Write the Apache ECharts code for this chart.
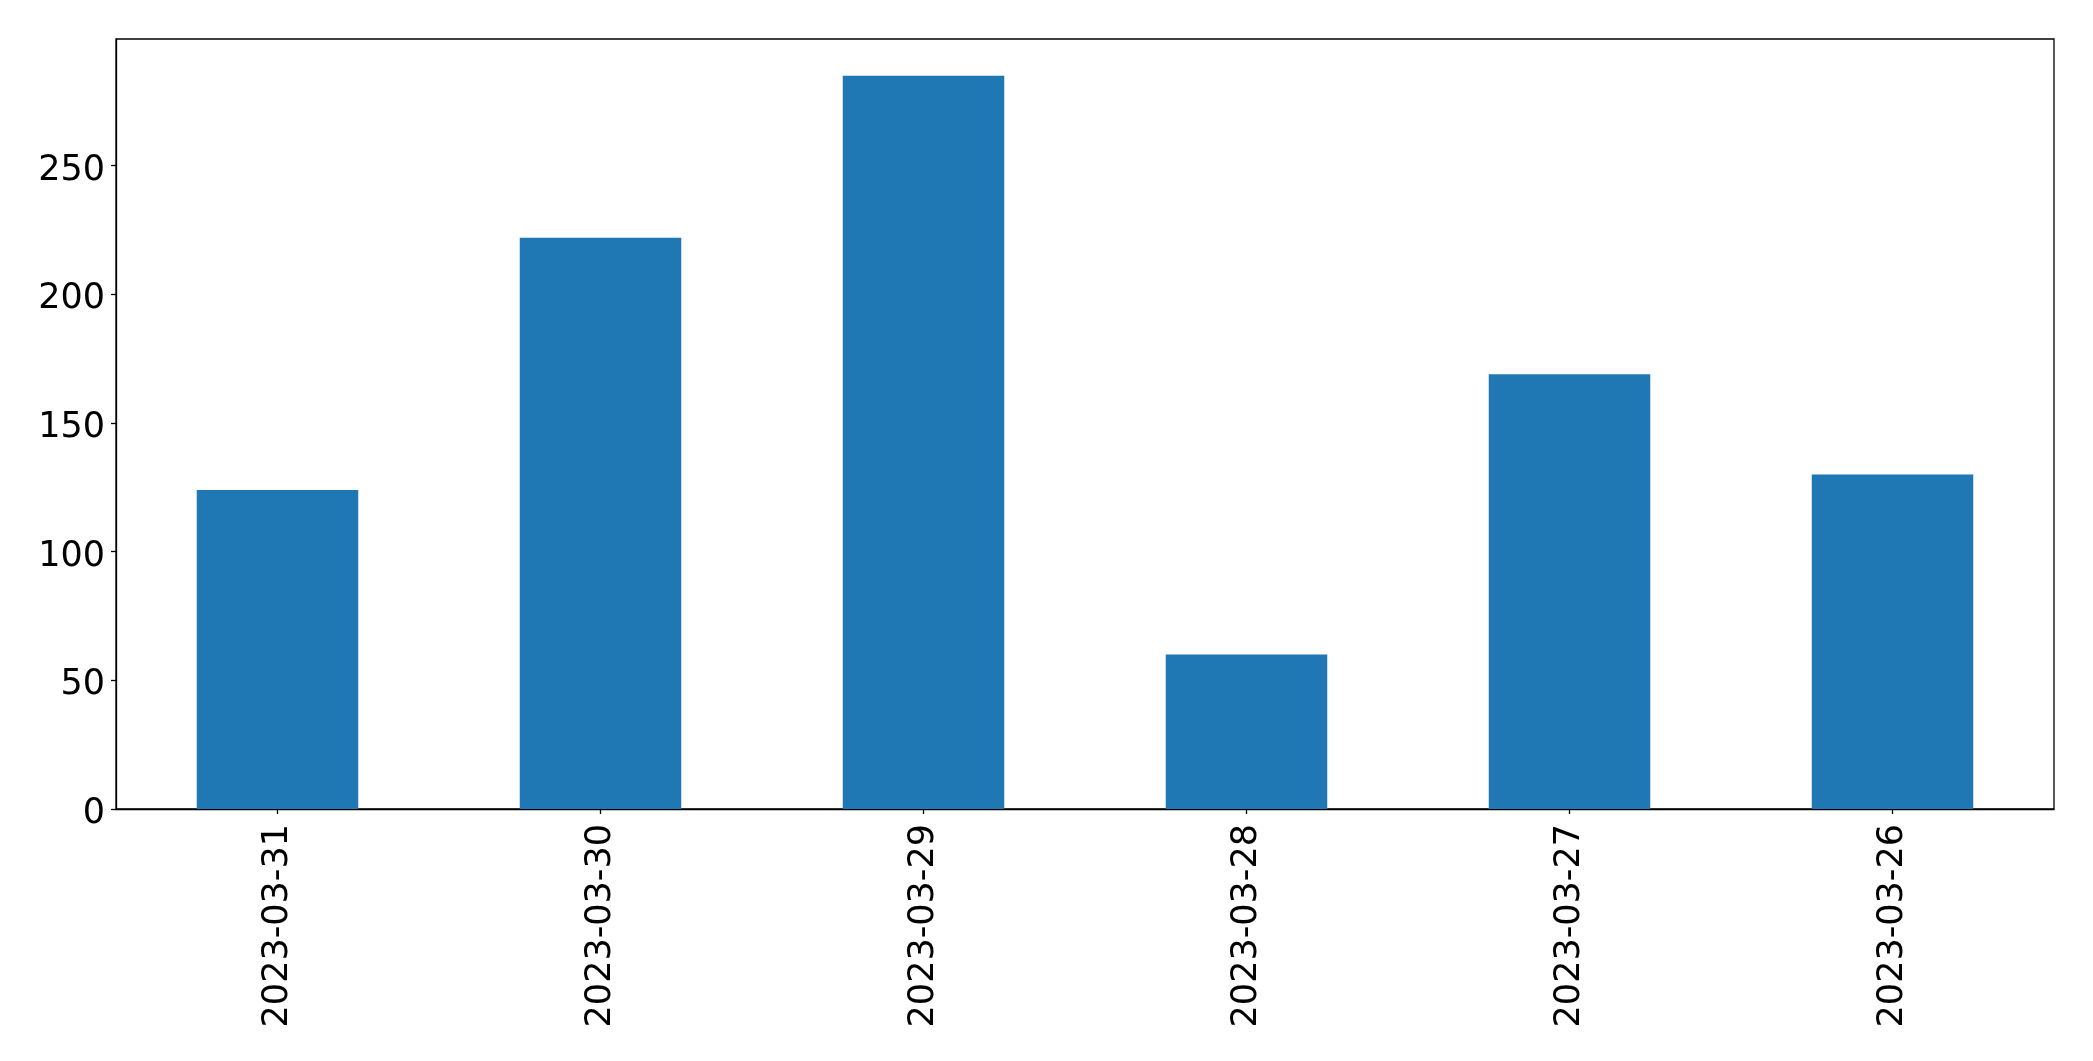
<!DOCTYPE html>
<html>
<head>
<meta charset="utf-8">
<script src="https://cdn.jsdelivr.net/npm/echarts@6/dist/echarts.min.js"></script>
<style>
html,body{margin:0;padding:0;background:#fff;}
#chart{width:2093px;height:1061px;}
</style>
</head>
<body>
<div id="chart"></div>
<script>
const categories = ['2023-03-31','2023-03-30','2023-03-29','2023-03-28','2023-03-27','2023-03-26'];
const values = [124, 222, 285, 60, 169, 130];
const yTicks = [0, 50, 100, 150, 200, 250];

const chart = echarts.init(document.getElementById('chart'), null, {renderer:'canvas'});
const font = 'DejaVu Sans';
chart.setOption({
  animation: false,
  backgroundColor: '#ffffff',
  grid: {
    left: 116, right: 39, top: 39, bottom: 252,
    show: true, borderColor: '#000', borderWidth: 1.3, backgroundColor: 'transparent'
  },
  xAxis: {
    type: 'category',
    data: categories,
    axisLine: {show: true, lineStyle: {color: '#000', width: 1.3}},
    axisTick: {show: true, alignWithLabel: true, length: 5, lineStyle: {color: '#000', width: 1.3}},
    axisLabel: {rotate: 90, margin: 15, fontSize: 35, fontFamily: font, color: '#000', interval: 0},
    splitLine: {show: false}
  },
  yAxis: {
    type: 'value',
    min: 0,
    max: 299.25,
    interval: 50,
    axisLine: {show: true, lineStyle: {color: '#000', width: 1.3}},
    axisTick: {show: true, length: 5, lineStyle: {color: '#000', width: 1.3}, customValues: yTicks},
    axisLabel: {margin: 11, fontSize: 35, fontFamily: font, color: '#000', customValues: yTicks,
                verticalAlign: 'top', lineHeight: 10},
    splitLine: {show: false}
  },
  series: [{
    type: 'bar',
    data: values,
    barWidth: '50%',
    itemStyle: {color: '#1f77b4'}
  }]
});
</script>
</body>
</html>
